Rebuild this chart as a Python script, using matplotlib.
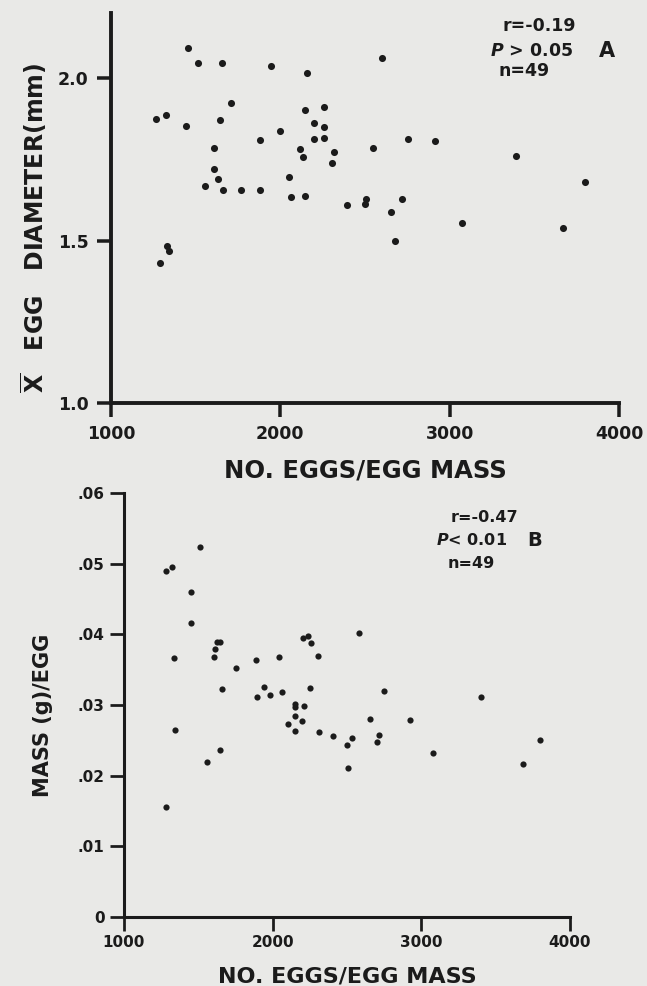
import matplotlib.pyplot as plt

# Panel A: egg diameter vs eggs per mass
eggs_a = [1455, 1516, 1658, 1943, 2159, 2602, 1711, 1266, 1325, 1443,
          1644, 2146, 2260, 2201, 2258, 2197, 2258, 1999, 1882, 1610,
          2114, 2134, 2319, 2305, 2546, 1610, 1634, 1557, 1663, 1766,
          1880, 2049, 2063, 2146, 2394, 2504, 2500, 2652, 2677, 2751,
          2914, 3391, 3798, 2717, 3071, 3672, 1333, 1343, 1291]
diam_a = [2.093, 2.045, 2.047, 2.037, 2.016, 2.062, 1.922, 1.874, 1.886, 1.851,
          1.871, 1.902, 1.910, 1.862, 1.848, 1.811, 1.815, 1.837, 1.810, 1.786,
          1.782, 1.756, 1.772, 1.738, 1.784, 1.721, 1.688, 1.668, 1.656, 1.656,
          1.656, 1.695, 1.633, 1.637, 1.609, 1.628, 1.611, 1.587, 1.499, 1.811,
          1.807, 1.761, 1.681, 1.629, 1.555, 1.539, 1.484, 1.469, 1.430]

# Panel B: mass per egg vs eggs per mass
eggs_b = [1280, 1285, 1320, 1336, 1342, 1448, 1448, 1511, 1556, 1607,
          1612, 1628, 1645, 1647, 1661, 1753, 1887, 1894, 1940, 1985,
          2045, 2064, 2106, 2147, 2150, 2150, 2150, 2197, 2202, 2214,
          2241, 2253, 2257, 2304, 2311, 2403, 2500, 2508, 2536, 2582,
          2653, 2700, 2717, 2751, 2922, 3081, 3400, 3683, 3800]
mass_b = [0.0155, 0.0490, 0.0495, 0.0366, 0.0265, 0.0460, 0.0416, 0.0523, 0.0220, 0.0368,
          0.0379, 0.0389, 0.0389, 0.0236, 0.0323, 0.0352, 0.0364, 0.0311, 0.0326, 0.0314,
          0.0368, 0.0319, 0.0273, 0.0302, 0.0297, 0.0284, 0.0263, 0.0277, 0.0395, 0.0298,
          0.0398, 0.0324, 0.0388, 0.0370, 0.0262, 0.0256, 0.0244, 0.0211, 0.0253, 0.0402,
          0.0280, 0.0247, 0.0257, 0.0320, 0.0279, 0.0232, 0.0312, 0.0216, 0.0250]

x_ticks = [1000, 2000, 3000, 4000]
a_yticks = [1.0, 1.5, 2.0]
a_ylabels = ['1.0', '1.5', '2.0']
b_yticks = [0, 0.01, 0.02, 0.03, 0.04, 0.05, 0.06]
b_ylabels = ['0', '.01', '.02', '.03', '.04', '.05', '.06']

bg = '#e9e9e7'
ink = '#1b1b1b'
W, H = 647, 986

plt.rcParams['font.family'] = 'DejaVu Sans'
plt.rcParams['font.weight'] = 'bold'
plt.rcParams['text.color'] = ink

fig = plt.figure(figsize=(W / 100, H / 100), dpi=100, facecolor=bg)


def px(x, y):
    return x / W, 1 - y / H


def style(ax, lw, fs, pad_x, pad_y):
    ax.set_facecolor(bg)
    for s in ['top', 'right']:
        ax.spines[s].set_visible(False)
    for s in ['left', 'bottom']:
        ax.spines[s].set_linewidth(lw)
        ax.spines[s].set_color(ink)
    ax.tick_params(axis='both', direction='out', length=10, width=lw * 0.9,
                   color=ink, labelcolor=ink, labelsize=fs)
    ax.tick_params(axis='x', pad=pad_x)
    ax.tick_params(axis='y', pad=pad_y)


# ---- panel A ----
axA = fig.add_axes([111 / W, 1 - 403 / H, 508 / W, 390 / H])
axA.scatter(eggs_a, diam_a, s=26, color=ink, linewidths=0, clip_on=False)
axA.set_xlim(1000, 4000)
axA.set_ylim(1.0, 2.2)
axA.set_xticks(x_ticks)
axA.set_yticks(a_yticks)
axA.set_yticklabels(a_ylabels)
style(axA, 2.8, 12.5, 6, 6)

fig.text(*px(365, 470), 'NO. EGGS/EGG MASS', ha='center', va='center',
         fontsize=17.5, fontweight='bold')
fig.text(*px(34, 228), r'$\overline{\mathbf{X}}$   EGG   DIAMETER(mm)',
         ha='center', va='center', rotation=90, fontsize=17, fontweight='bold')
fig.text(*px(539, 26), 'r=-0.19', ha='center', va='center', fontsize=12.5)
fig.text(*px(532, 51), r'$\mathit{P}$ > 0.05', ha='center', va='center', fontsize=12.5)
fig.text(*px(607, 51), 'A', ha='center', va='center', fontsize=15)
fig.text(*px(524, 71), 'n=49', ha='center', va='center', fontsize=12.5)

# ---- panel B ----
axB = fig.add_axes([124 / W, 1 - 917 / H, 446 / W, 424 / H])
axB.scatter(eggs_b, mass_b, s=20, color=ink, linewidths=0, clip_on=False)
axB.set_xlim(1000, 4000)
axB.set_ylim(0, 0.06)
axB.set_xticks(x_ticks)
axB.set_yticks(b_yticks)
axB.set_yticklabels(b_ylabels)
style(axB, 2.2, 11, 3, 4)

fig.text(*px(347, 977), 'NO. EGGS/EGG MASS', ha='center', va='center',
         fontsize=16, fontweight='bold')
fig.text(*px(43, 715), 'MASS (g)/EGG', ha='center', va='center', rotation=90,
         fontsize=15, fontweight='bold')
fig.text(*px(484, 518), 'r=-0.47', ha='center', va='center', fontsize=11.5)
fig.text(*px(472, 540), r'$\mathit{P}$< 0.01', ha='center', va='center', fontsize=11.5)
fig.text(*px(535, 540), 'B', ha='center', va='center', fontsize=14)
fig.text(*px(471, 563), 'n=49', ha='center', va='center', fontsize=11.5)

fig.savefig('out.png', dpi=100, facecolor=bg)
